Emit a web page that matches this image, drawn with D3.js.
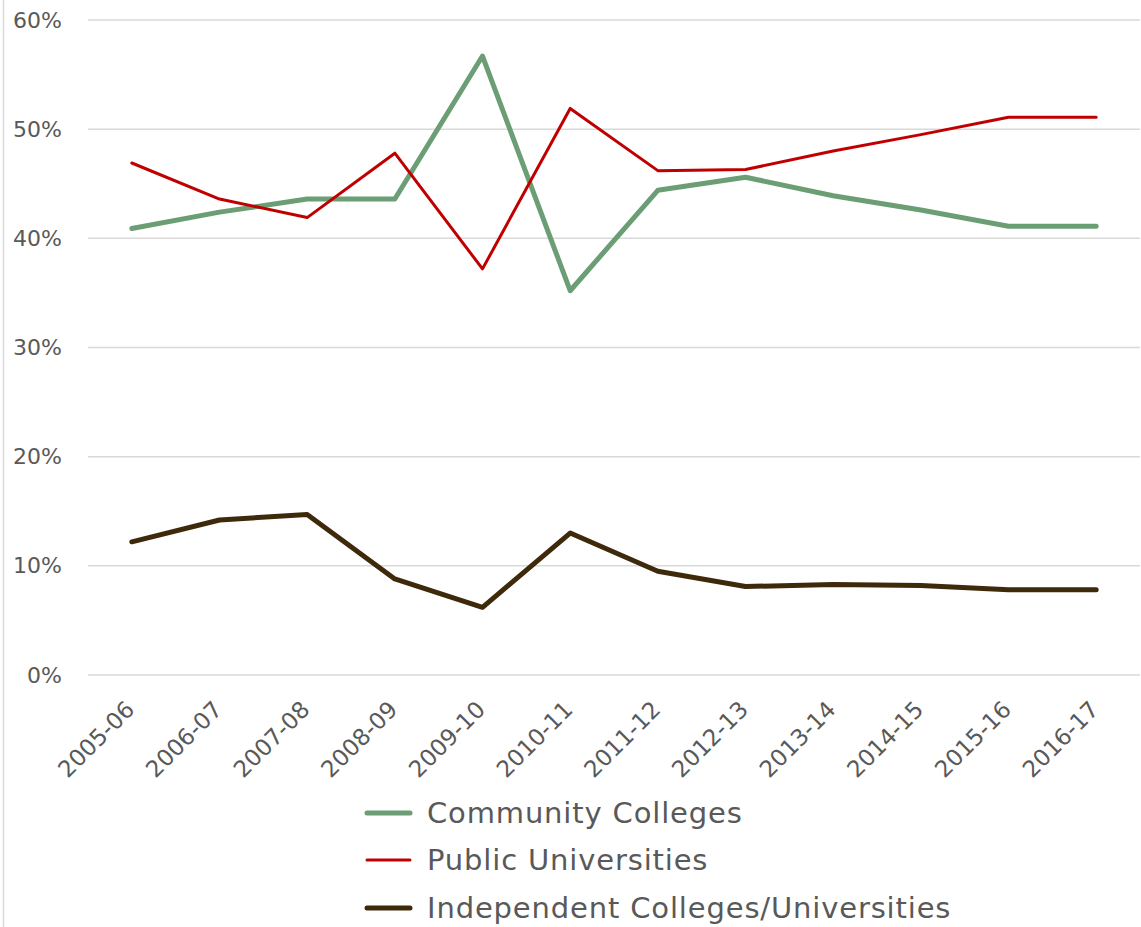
<!DOCTYPE html>
<html>
<head>
<meta charset="utf-8">
<script src="https://cdn.jsdelivr.net/npm/d3@7/dist/d3.min.js"></script>
<style>
  html, body { margin: 0; padding: 0; background: #fff; }
  svg { display: block; font-family: "DejaVu Sans", sans-serif; }
</style>
</head>
<body>
<svg id="chart" width="1141" height="927"></svg>
<script>
const categories = ["2005-06","2006-07","2007-08","2008-09","2009-10","2010-11","2011-12","2012-13","2013-14","2014-15","2015-16","2016-17"];
const communityColleges = [40.9, 42.4, 43.6, 43.6, 56.7, 35.2, 44.4, 45.6, 43.9, 42.6, 41.1, 41.1];
const publicUniversities = [46.9, 43.6, 41.9, 47.8, 37.2, 51.9, 46.2, 46.3, 48.0, 49.5, 51.1, 51.1];
const independentColleges = [12.2, 14.2, 14.7, 8.8, 6.2, 13.0, 9.5, 8.1, 8.3, 8.2, 7.8, 7.8];
const yTicks = [0, 10, 20, 30, 40, 50, 60];
const seriesNames = ["Community Colleges", "Public Universities", "Independent Colleges/Universities"];

const series = [
  { name: seriesNames[0], values: communityColleges, color: "#6b9e74", width: 5 },
  { name: seriesNames[1], values: publicUniversities, color: "#c00000", width: 3 },
  { name: seriesNames[2], values: independentColleges, color: "#3e2a0b", width: 5 }
];

const svg = d3.select("#chart");
const mLeft = 88, mRight = 1140, mTop = 20, mBottom = 675;

const x = d3.scaleBand().domain(categories).range([mLeft, mRight]);
const y = d3.scaleLinear().domain([0, 60]).range([mBottom, mTop]);

// outer border line at left
svg.append("line").attr("x1", 3.5).attr("x2", 3.5).attr("y1", 0).attr("y2", 927)
  .attr("stroke", "#d9d9d9").attr("stroke-width", 1.5);

// gridlines
svg.append("g").selectAll("line").data(yTicks).join("line")
  .attr("x1", mLeft).attr("x2", mRight)
  .attr("y1", d => y(d)).attr("y2", d => y(d))
  .attr("stroke", "#d9d9d9").attr("stroke-width", 1.5);

// y axis labels
const yAxis = d3.axisLeft(y).tickValues(yTicks).tickFormat(d => d + "%").tickSize(0).tickPadding(0);
const gy = svg.append("g").attr("transform", `translate(62,0)`).call(yAxis);
gy.select(".domain").remove();
gy.selectAll("text").attr("font-size", 22).attr("fill", "#595959")
  .attr("font-family", "DejaVu Sans, sans-serif");

// x axis labels
const xAxis = d3.axisBottom(x).tickSize(0).tickPadding(0);
const gx = svg.append("g").attr("transform", `translate(0,${mBottom})`).call(xAxis);
gx.select(".domain").remove();
gx.selectAll(".tick text")
  .attr("font-size", 23).attr("fill", "#595959")
  .attr("font-family", "DejaVu Sans, sans-serif")
  .attr("text-anchor", "end")
  .attr("dy", null).attr("y", 0)
  .attr("transform", "translate(4,36) rotate(-45)");

// lines
const line = d3.line().x((d, i) => x(categories[i]) + x.bandwidth() / 2).y(d => y(d));
series.forEach(s => {
  svg.append("path").datum(s.values)
    .attr("d", line).attr("fill", "none")
    .attr("stroke", s.color).attr("stroke-width", s.width)
    .attr("stroke-linejoin", "round").attr("stroke-linecap", "round");
});

// legend
const legend = svg.append("g");
const legY = [813, 860, 908];
series.forEach((s, i) => {
  legend.append("line").attr("x1", 367).attr("x2", 410)
    .attr("y1", legY[i]).attr("y2", legY[i])
    .attr("stroke", s.color).attr("stroke-width", s.width).attr("stroke-linecap", "round");
  legend.append("text").attr("x", 427).attr("y", legY[i]).attr("dy", "0.36em")
    .attr("font-size", 29).attr("letter-spacing", 0.85).attr("fill", "#595959")
    .text(s.name);
});
</script>
</body>
</html>
